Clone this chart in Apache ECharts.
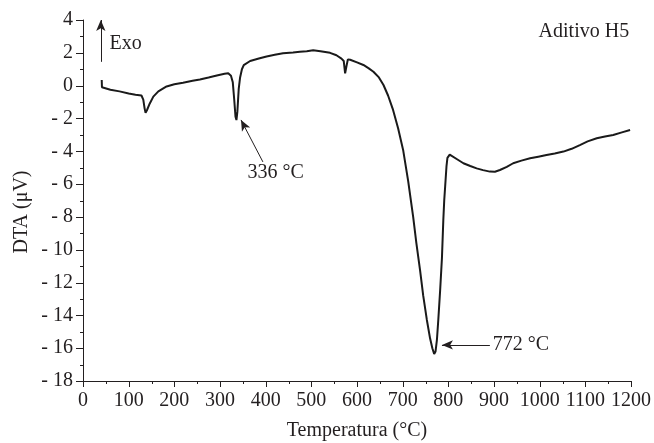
<!DOCTYPE html>
<html>
<head>
<meta charset="utf-8">
<script src="https://cdn.jsdelivr.net/npm/echarts@6/dist/echarts.min.js"></script>
<style>html,body{margin:0;padding:0;background:#fff}#c{width:654px;height:443px}</style>
</head>
<body>
<div id="c"></div>
<script>
// Temperature (°C) readings
var temps = [41,41.5,45,60,80,100,115,128,132,135,137,140,146,154,165,183,200,219,240,256,275,293,310,318,324,328,331,334,336,338,341,344,348,352,366,385,402,420,438,460,475,490,504,520,541,555,566,571,574,577,580,585,600,614,625,636,648,658,668,679,690,701,712,723,730,738,745,753,760,765,769,772,775,778,782,786,789,791,793,796,798,803,807,820,833,848,862,876,891,902,913,928,942,960,979,997,1015,1033,1052,1070,1088,1105,1125,1143,1161,1180,1198];
// DTA signal (µV)
var dta = [0.34,-0.1,-0.2,-0.25,-0.35,-0.48,-0.55,-0.6,-0.85,-1.4,-1.65,-1.5,-1.1,-0.67,-0.35,-0.05,0.08,0.18,0.3,0.38,0.5,0.62,0.72,0.75,0.6,0.2,-0.8,-1.9,-2.1,-1.6,-0.2,0.5,1.0,1.25,1.5,1.65,1.78,1.88,1.97,2.02,2.07,2.1,2.15,2.1,2.0,1.85,1.65,1.5,0.75,1.2,1.6,1.58,1.42,1.26,1.07,0.85,0.5,0.04,-0.6,-1.48,-2.6,-3.92,-5.8,-8.0,-9.6,-11.23,-12.8,-14.28,-15.4,-16.0,-16.35,-16.2,-15.5,-14.28,-12.5,-10.5,-8.2,-7.0,-6.16,-4.9,-4.4,-4.2,-4.23,-4.5,-4.73,-4.9,-5.04,-5.15,-5.24,-5.25,-5.14,-4.95,-4.73,-4.57,-4.43,-4.33,-4.23,-4.13,-4.02,-3.85,-3.62,-3.4,-3.21,-3.1,-3.01,-2.85,-2.7];
var xTicks = {min:0, max:1200, interval:100};
var yTicks = {min:-18, max:4, interval:2};
var title = 'Aditivo H5';
var xName = 'Temperatura (°C)';
var yName = 'DTA (μV)';
// annotation arrows: [fromX, fromY, toX, toY]
var arrowExo = [39, 1.45, 39, 4.0];
var arrow336 = [394, -4.65, 346, -2.09];
var arrow772 = [891, -15.8, 786, -15.8];
var labelExo = ['Exo', 58, 2.54];
var label336 = ['336 °C', 422, -5.32];
var label772 = ['772 °C', 897, -15.8];
var labelTitle = [title, 1196, 3.27];

var pts = temps.map(function(t,i){return [t, dta[i]];});
var font = '"Liberation Serif", "Times New Roman", serif';
var txtColor = '#231f20';
var axisColor = '#231f20';

// tick marks (major + one minor between) taken from the axis settings
function tickList(r){
  var out = [];
  var half = r.interval / 2;
  for (var k = 0; r.min + k * half <= r.max + 1e-9; k++) {
    out.push([r.min + k * half, k % 2 === 0 ? 1 : 0]);
  }
  return out;
}
var xTickData = tickList(xTicks);
var yTickData = tickList(yTicks);

var chart = echarts.init(document.getElementById('c'));
function lbl(item, align){
  return {coord:[item[1], item[2]], value:item[0],
    label:{show:true, formatter:item[0], position:'inside', align:align, verticalAlign:'middle',
      fontFamily:font, fontSize:20, color:txtColor}};
}
chart.setOption({
  animation:false,
  grid:{left:83, right:23, top:20, bottom:62, outerBoundsMode:'none'},
  xAxis:{type:'value', min:xTicks.min, max:xTicks.max, interval:xTicks.interval, position:'bottom',
    name:xName, nameLocation:'middle', nameGap:40,
    nameTextStyle:{fontFamily:font, fontSize:20, color:txtColor},
    axisLine:{show:true, onZero:false, lineStyle:{color:axisColor}},
    axisTick:{show:false}, minorTick:{show:false},
    splitLine:{show:false},
    axisLabel:{margin:10, fontFamily:font, fontSize:20, color:txtColor,
      formatter:function(v){return String(v);}}},
  yAxis:{type:'value', min:yTicks.min, max:yTicks.max, interval:yTicks.interval, position:'left',
    axisLine:{show:true, onZero:false, lineStyle:{color:axisColor}},
    axisTick:{show:false}, minorTick:{show:false},
    splitLine:{show:false},
    axisLabel:{margin:10, fontFamily:font, fontSize:20, color:txtColor,
      formatter:function(v){return v<0 ? '- ' + (-v) : String(v);}}},
  graphic:[{type:'text', x:22, y:212, rotation:Math.PI/2,
    style:{text:yName, font:'20px ' + font, fill:txtColor, textAlign:'center', textVerticalAlign:'middle'}}],
  series:[{
    type:'line', data:pts, showSymbol:false, symbol:'none', clip:false,
    lineStyle:{color:'#1a1a1a', width:2},
    markLine:{silent:true, symbol:['none','arrow'], symbolSize:[7,11],
      lineStyle:{color:'#231f20', width:1, type:'solid'},
      label:{show:false},
      data:[
        [{coord:[arrowExo[0],arrowExo[1]]},{coord:[arrowExo[2],arrowExo[3]]}],
        [{coord:[arrow336[0],arrow336[1]]},{coord:[arrow336[2],arrow336[3]]}],
        [{coord:[arrow772[0],arrow772[1]]},{coord:[arrow772[2],arrow772[3]]}]
      ]},
    markPoint:{silent:true, symbol:'circle', symbolSize:0,
      data:[lbl(labelExo,'left'), lbl(label336,'center'), lbl(label772,'left'), lbl(labelTitle,'right')]}
  }, {
    type:'custom', silent:true, clip:false, data:xTickData,
    renderItem:function(params, api){
      var p = api.coord([api.value(0), yTicks.min]);
      var len = api.value(1) ? 6 : 3;
      var x = Math.round(p[0]) + 0.5;
      return {type:'line', shape:{x1:x, y1:p[1], x2:x, y2:p[1] + len},
        style:{stroke:axisColor, lineWidth:1}};
    }
  }, {
    type:'custom', silent:true, clip:false, data:yTickData,
    renderItem:function(params, api){
      var p = api.coord([xTicks.min, api.value(0)]);
      var len = api.value(1) ? 7 : 3;
      var y = Math.round(p[1]) + 0.5;
      return {type:'line', shape:{x1:p[0] - len, y1:y, x2:p[0], y2:y},
        style:{stroke:axisColor, lineWidth:1}};
    }
  }]
});
</script>
</body>
</html>
